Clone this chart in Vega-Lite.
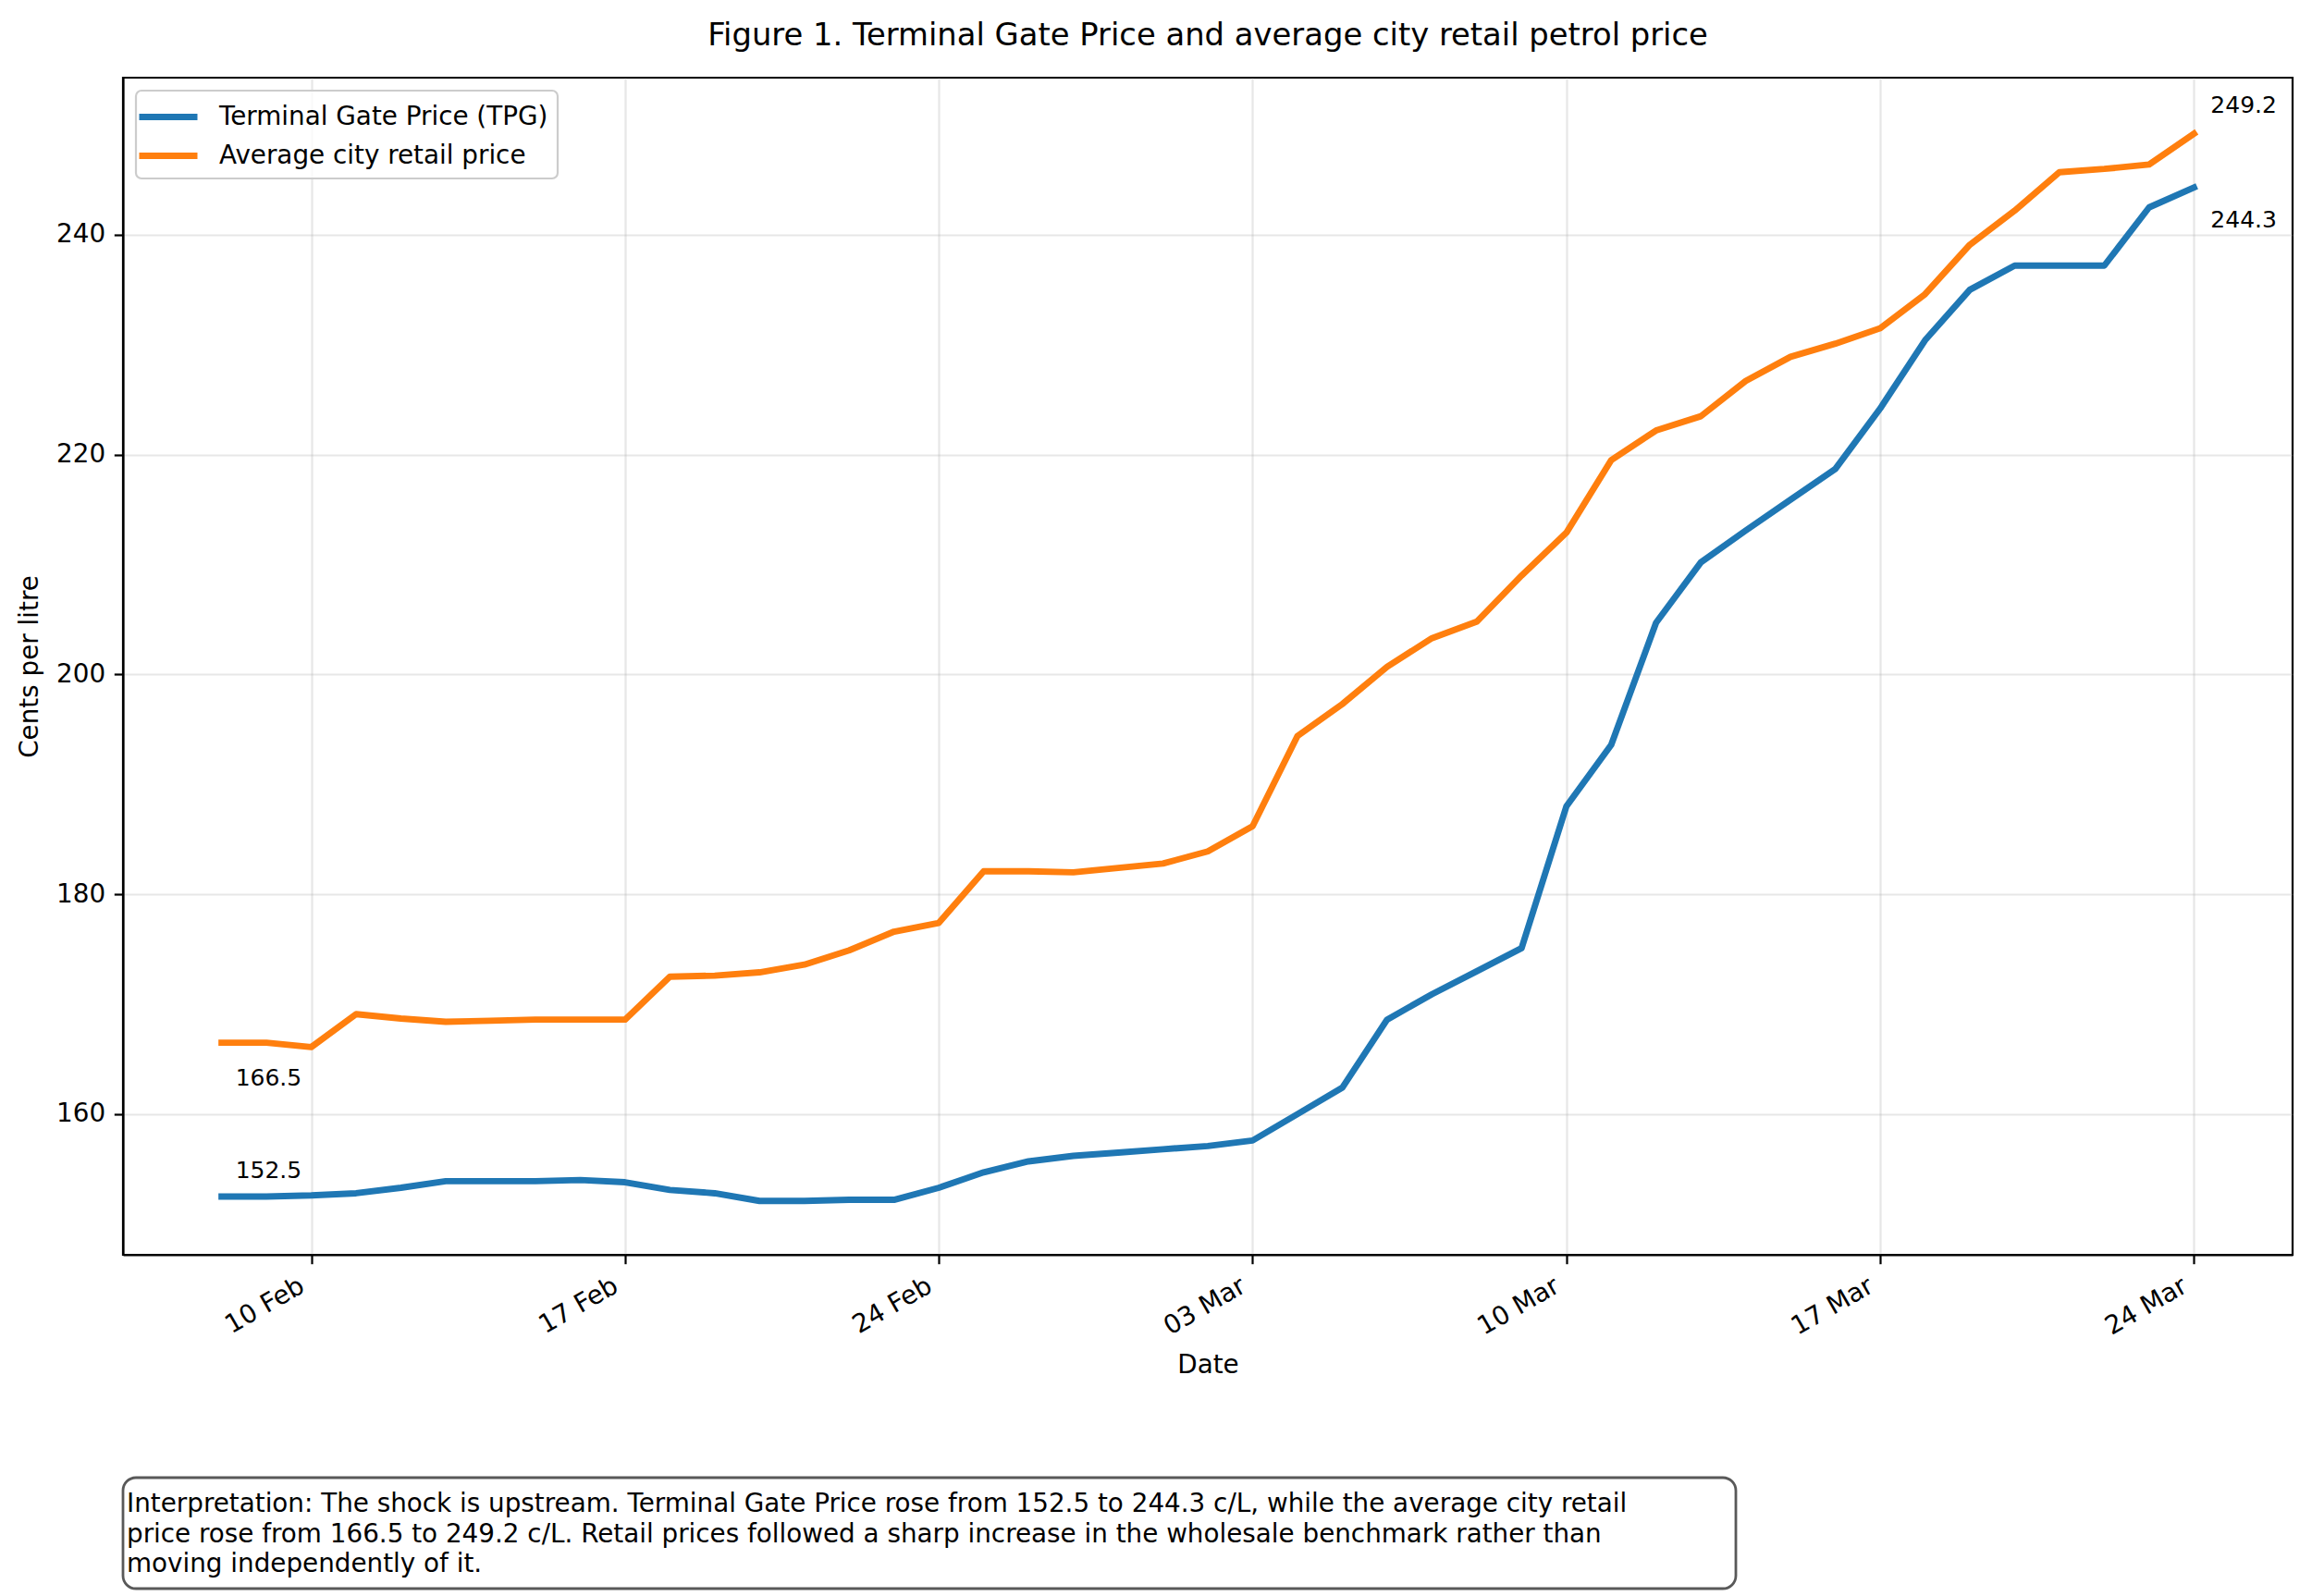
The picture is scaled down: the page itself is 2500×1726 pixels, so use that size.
{
  "$schema": "https://vega.github.io/schema/vega-lite/v6.json",
  "background": "white",
  "padding": {"left": 17, "top": 21, "right": 5, "bottom": 5},
  "spacing": 104,
  "config": {
    "font": "DejaVu Sans",
    "view": {"stroke": "black", "strokeWidth": 2.2},
    "axis": {
      "labelFont": "DejaVu Sans", "labelFontSize": 27.8, "labelColor": "black",
      "titleFont": "DejaVu Sans", "titleFontSize": 27.8, "titleFontWeight": "normal", "titleColor": "black",
      "tickColor": "black", "tickSize": 9.7, "tickWidth": 2.2,
      "domainColor": "black", "domainWidth": 2.2,
      "gridColor": "#b0b0b0", "gridOpacity": 0.3, "gridWidth": 2.2,
      "labelPadding": 9.7, "labelFlush": false, "labelOverlap": false
    },
    "legend": {"strokeWidth": 2.2, "cornerRadius": 6}
  },
  "vconcat": [
    {
      "width": 2346,
      "height": 1273,
      "title": {
        "text": "Figure 1. Terminal Gate Price and average city retail petrol price",
        "fontSize": 33.8, "fontWeight": "normal", "font": "DejaVu Sans", "color": "black",
        "anchor": "middle", "frame": "group", "offset": 28
      },
      "data": {"values": [
        {"date": "2026-02-08", "series": "Terminal Gate Price (TPG)", "price": 152.5},
        {"date": "2026-02-09", "series": "Terminal Gate Price (TPG)", "price": 152.5},
        {"date": "2026-02-10", "series": "Terminal Gate Price (TPG)", "price": 152.6},
        {"date": "2026-02-11", "series": "Terminal Gate Price (TPG)", "price": 152.8},
        {"date": "2026-02-12", "series": "Terminal Gate Price (TPG)", "price": 153.3},
        {"date": "2026-02-13", "series": "Terminal Gate Price (TPG)", "price": 153.9},
        {"date": "2026-02-14", "series": "Terminal Gate Price (TPG)", "price": 153.9},
        {"date": "2026-02-15", "series": "Terminal Gate Price (TPG)", "price": 153.9},
        {"date": "2026-02-16", "series": "Terminal Gate Price (TPG)", "price": 154.0},
        {"date": "2026-02-17", "series": "Terminal Gate Price (TPG)", "price": 153.8},
        {"date": "2026-02-18", "series": "Terminal Gate Price (TPG)", "price": 153.1},
        {"date": "2026-02-19", "series": "Terminal Gate Price (TPG)", "price": 152.8},
        {"date": "2026-02-20", "series": "Terminal Gate Price (TPG)", "price": 152.1},
        {"date": "2026-02-21", "series": "Terminal Gate Price (TPG)", "price": 152.1},
        {"date": "2026-02-22", "series": "Terminal Gate Price (TPG)", "price": 152.2},
        {"date": "2026-02-23", "series": "Terminal Gate Price (TPG)", "price": 152.2},
        {"date": "2026-02-24", "series": "Terminal Gate Price (TPG)", "price": 153.3},
        {"date": "2026-02-25", "series": "Terminal Gate Price (TPG)", "price": 154.7},
        {"date": "2026-02-26", "series": "Terminal Gate Price (TPG)", "price": 155.7},
        {"date": "2026-02-27", "series": "Terminal Gate Price (TPG)", "price": 156.2},
        {"date": "2026-02-28", "series": "Terminal Gate Price (TPG)", "price": 156.5},
        {"date": "2026-03-01", "series": "Terminal Gate Price (TPG)", "price": 156.8},
        {"date": "2026-03-02", "series": "Terminal Gate Price (TPG)", "price": 157.1},
        {"date": "2026-03-03", "series": "Terminal Gate Price (TPG)", "price": 157.6},
        {"date": "2026-03-04", "series": "Terminal Gate Price (TPG)", "price": 160.0},
        {"date": "2026-03-05", "series": "Terminal Gate Price (TPG)", "price": 162.4},
        {"date": "2026-03-06", "series": "Terminal Gate Price (TPG)", "price": 168.6},
        {"date": "2026-03-07", "series": "Terminal Gate Price (TPG)", "price": 170.9},
        {"date": "2026-03-08", "series": "Terminal Gate Price (TPG)", "price": 173.0},
        {"date": "2026-03-09", "series": "Terminal Gate Price (TPG)", "price": 175.1},
        {"date": "2026-03-10", "series": "Terminal Gate Price (TPG)", "price": 188.0},
        {"date": "2026-03-11", "series": "Terminal Gate Price (TPG)", "price": 193.6},
        {"date": "2026-03-12", "series": "Terminal Gate Price (TPG)", "price": 204.7},
        {"date": "2026-03-13", "series": "Terminal Gate Price (TPG)", "price": 210.2},
        {"date": "2026-03-14", "series": "Terminal Gate Price (TPG)", "price": 213.1},
        {"date": "2026-03-15", "series": "Terminal Gate Price (TPG)", "price": 215.9},
        {"date": "2026-03-16", "series": "Terminal Gate Price (TPG)", "price": 218.7},
        {"date": "2026-03-17", "series": "Terminal Gate Price (TPG)", "price": 224.2},
        {"date": "2026-03-18", "series": "Terminal Gate Price (TPG)", "price": 230.4},
        {"date": "2026-03-19", "series": "Terminal Gate Price (TPG)", "price": 235.0},
        {"date": "2026-03-20", "series": "Terminal Gate Price (TPG)", "price": 237.2},
        {"date": "2026-03-21", "series": "Terminal Gate Price (TPG)", "price": 237.2},
        {"date": "2026-03-22", "series": "Terminal Gate Price (TPG)", "price": 237.2},
        {"date": "2026-03-23", "series": "Terminal Gate Price (TPG)", "price": 242.5},
        {"date": "2026-03-24", "series": "Terminal Gate Price (TPG)", "price": 244.3},
        {"date": "2026-02-08", "series": "Average city retail price", "price": 166.5},
        {"date": "2026-02-09", "series": "Average city retail price", "price": 166.5},
        {"date": "2026-02-10", "series": "Average city retail price", "price": 166.1},
        {"date": "2026-02-11", "series": "Average city retail price", "price": 169.1},
        {"date": "2026-02-12", "series": "Average city retail price", "price": 168.7},
        {"date": "2026-02-13", "series": "Average city retail price", "price": 168.4},
        {"date": "2026-02-14", "series": "Average city retail price", "price": 168.5},
        {"date": "2026-02-15", "series": "Average city retail price", "price": 168.6},
        {"date": "2026-02-16", "series": "Average city retail price", "price": 168.6},
        {"date": "2026-02-17", "series": "Average city retail price", "price": 168.6},
        {"date": "2026-02-18", "series": "Average city retail price", "price": 172.5},
        {"date": "2026-02-19", "series": "Average city retail price", "price": 172.6},
        {"date": "2026-02-20", "series": "Average city retail price", "price": 172.9},
        {"date": "2026-02-21", "series": "Average city retail price", "price": 173.6},
        {"date": "2026-02-22", "series": "Average city retail price", "price": 174.9},
        {"date": "2026-02-23", "series": "Average city retail price", "price": 176.6},
        {"date": "2026-02-24", "series": "Average city retail price", "price": 177.4},
        {"date": "2026-02-25", "series": "Average city retail price", "price": 182.1},
        {"date": "2026-02-26", "series": "Average city retail price", "price": 182.1},
        {"date": "2026-02-27", "series": "Average city retail price", "price": 182.0},
        {"date": "2026-02-28", "series": "Average city retail price", "price": 182.4},
        {"date": "2026-03-01", "series": "Average city retail price", "price": 182.8},
        {"date": "2026-03-02", "series": "Average city retail price", "price": 183.9},
        {"date": "2026-03-03", "series": "Average city retail price", "price": 186.2},
        {"date": "2026-03-04", "series": "Average city retail price", "price": 194.4},
        {"date": "2026-03-05", "series": "Average city retail price", "price": 197.3},
        {"date": "2026-03-06", "series": "Average city retail price", "price": 200.7},
        {"date": "2026-03-07", "series": "Average city retail price", "price": 203.3},
        {"date": "2026-03-08", "series": "Average city retail price", "price": 204.8},
        {"date": "2026-03-09", "series": "Average city retail price", "price": 209.0},
        {"date": "2026-03-10", "series": "Average city retail price", "price": 212.9},
        {"date": "2026-03-11", "series": "Average city retail price", "price": 219.5},
        {"date": "2026-03-12", "series": "Average city retail price", "price": 222.2},
        {"date": "2026-03-13", "series": "Average city retail price", "price": 223.5},
        {"date": "2026-03-14", "series": "Average city retail price", "price": 226.7},
        {"date": "2026-03-15", "series": "Average city retail price", "price": 228.9},
        {"date": "2026-03-16", "series": "Average city retail price", "price": 230.1},
        {"date": "2026-03-17", "series": "Average city retail price", "price": 231.5},
        {"date": "2026-03-18", "series": "Average city retail price", "price": 234.6},
        {"date": "2026-03-19", "series": "Average city retail price", "price": 239.1},
        {"date": "2026-03-20", "series": "Average city retail price", "price": 242.2},
        {"date": "2026-03-21", "series": "Average city retail price", "price": 245.7},
        {"date": "2026-03-22", "series": "Average city retail price", "price": 246.0},
        {"date": "2026-03-23", "series": "Average city retail price", "price": 246.4},
        {"date": "2026-03-24", "series": "Average city retail price", "price": 249.2}
      ]},
      "encoding": {
        "x": {
          "field": "date", "type": "temporal",
          "scale": {"type": "utc", "domain": [
            {"year": 2026, "month": 2, "date": 5, "hours": 19, "minutes": 12, "utc": true},
            {"year": 2026, "month": 3, "date": 26, "hours": 4, "minutes": 48, "utc": true}
          ]},
          "axis": {
            "title": "Date", "format": "%d %b",
            "values": [
              {"year": 2026, "month": 2, "date": 10, "utc": true},
              {"year": 2026, "month": 2, "date": 17, "utc": true},
              {"year": 2026, "month": 2, "date": 24, "utc": true},
              {"year": 2026, "month": 3, "date": 3, "utc": true},
              {"year": 2026, "month": 3, "date": 10, "utc": true},
              {"year": 2026, "month": 3, "date": 17, "utc": true},
              {"year": 2026, "month": 3, "date": 24, "utc": true}
            ],
            "labelAngle": -30, "labelAlign": "right", "labelBaseline": "top", "labelOffset": -17,
            "titlePadding": 14
          }
        },
        "y": {
          "field": "price", "type": "quantitative",
          "scale": {"domain": [147.2, 254.3], "nice": false, "zero": false},
          "axis": {"title": "Cents per litre", "values": [160, 180, 200, 220, 240], "titlePadding": 14}
        }
      },
      "layer": [
        {
          "mark": {"type": "line", "strokeWidth": 6.9, "strokeCap": "square", "strokeJoin": "round"},
          "encoding": {
            "color": {
              "field": "series", "type": "nominal",
              "scale": {"domain": ["Terminal Gate Price (TPG)", "Average city retail price"], "range": ["#1f77b4", "#ff7f0e"]},
              "legend": {
                "title": null, "orient": "top-left", "offset": 13.5,
                "symbolType": "M-1.667,0L2.533,0", "symbolSize": 900, "symbolStrokeWidth": 6.9,
                "labelFontSize": 27.8, "labelFont": "DejaVu Sans", "labelColor": "black", "labelLimit": 1000,
                "labelOffset": 43, "padding": 10, "rowPadding": 9,
                "fillColor": "rgba(255,255,255,0.8)", "strokeColor": "#cccccc"
              }
            }
          }
        },
        {
          "transform": [{"filter": "datum.series === 'Average city retail price' && time(datum.date) === time('2026-02-08')"}],
          "mark": {"type": "text", "align": "left", "baseline": "alphabetic", "dx": 15, "dy": 46, "fontSize": 25, "font": "DejaVu Sans", "color": "black"},
          "encoding": {"text": {"field": "price", "type": "quantitative", "format": ".1f"}}
        },
        {
          "transform": [{"filter": "datum.series === 'Terminal Gate Price (TPG)' && time(datum.date) === time('2026-02-08')"}],
          "mark": {"type": "text", "align": "left", "baseline": "alphabetic", "dx": 15, "dy": -20, "fontSize": 25, "font": "DejaVu Sans", "color": "black"},
          "encoding": {"text": {"field": "price", "type": "quantitative", "format": ".1f"}}
        },
        {
          "transform": [{"filter": "datum.series === 'Average city retail price' && time(datum.date) === time('2026-03-24')"}],
          "mark": {"type": "text", "align": "left", "baseline": "alphabetic", "dx": 18, "dy": -23, "fontSize": 25, "font": "DejaVu Sans", "color": "black"},
          "encoding": {"text": {"field": "price", "type": "quantitative", "format": ".1f"}}
        },
        {
          "transform": [{"filter": "datum.series === 'Terminal Gate Price (TPG)' && time(datum.date) === time('2026-03-24')"}],
          "mark": {"type": "text", "align": "left", "baseline": "alphabetic", "dx": 18, "dy": 43, "fontSize": 25, "font": "DejaVu Sans", "color": "black"},
          "encoding": {"text": {"field": "price", "type": "quantitative", "format": ".1f"}}
        }
      ]
    },
    {
      "width": 1744,
      "height": 120,
      "view": {"stroke": "#595959", "strokeWidth": 2.8, "cornerRadius": 14, "fill": "white"},
      "data": {"values": [
        {"note": "Interpretation: The shock is upstream. Terminal Gate Price rose from 152.5 to 244.3 c/L, while the average city retail\nprice rose from 166.5 to 249.2 c/L. Retail prices followed a sharp increase in the wholesale benchmark rather than\nmoving independently of it."}
      ]},
      "mark": {"type": "text", "align": "left", "baseline": "top", "lineBreak": "\n", "fontSize": 27.8, "lineHeight": 32.5, "font": "DejaVu Sans", "color": "black", "dx": 4, "dy": 15},
      "encoding": {
        "text": {"field": "note", "type": "nominal"},
        "x": {"datum": 0, "type": "quantitative", "scale": {"domain": [0, 1]}, "axis": null},
        "y": {"datum": 1, "type": "quantitative", "scale": {"domain": [0, 1]}, "axis": null}
      }
    }
  ]
}
